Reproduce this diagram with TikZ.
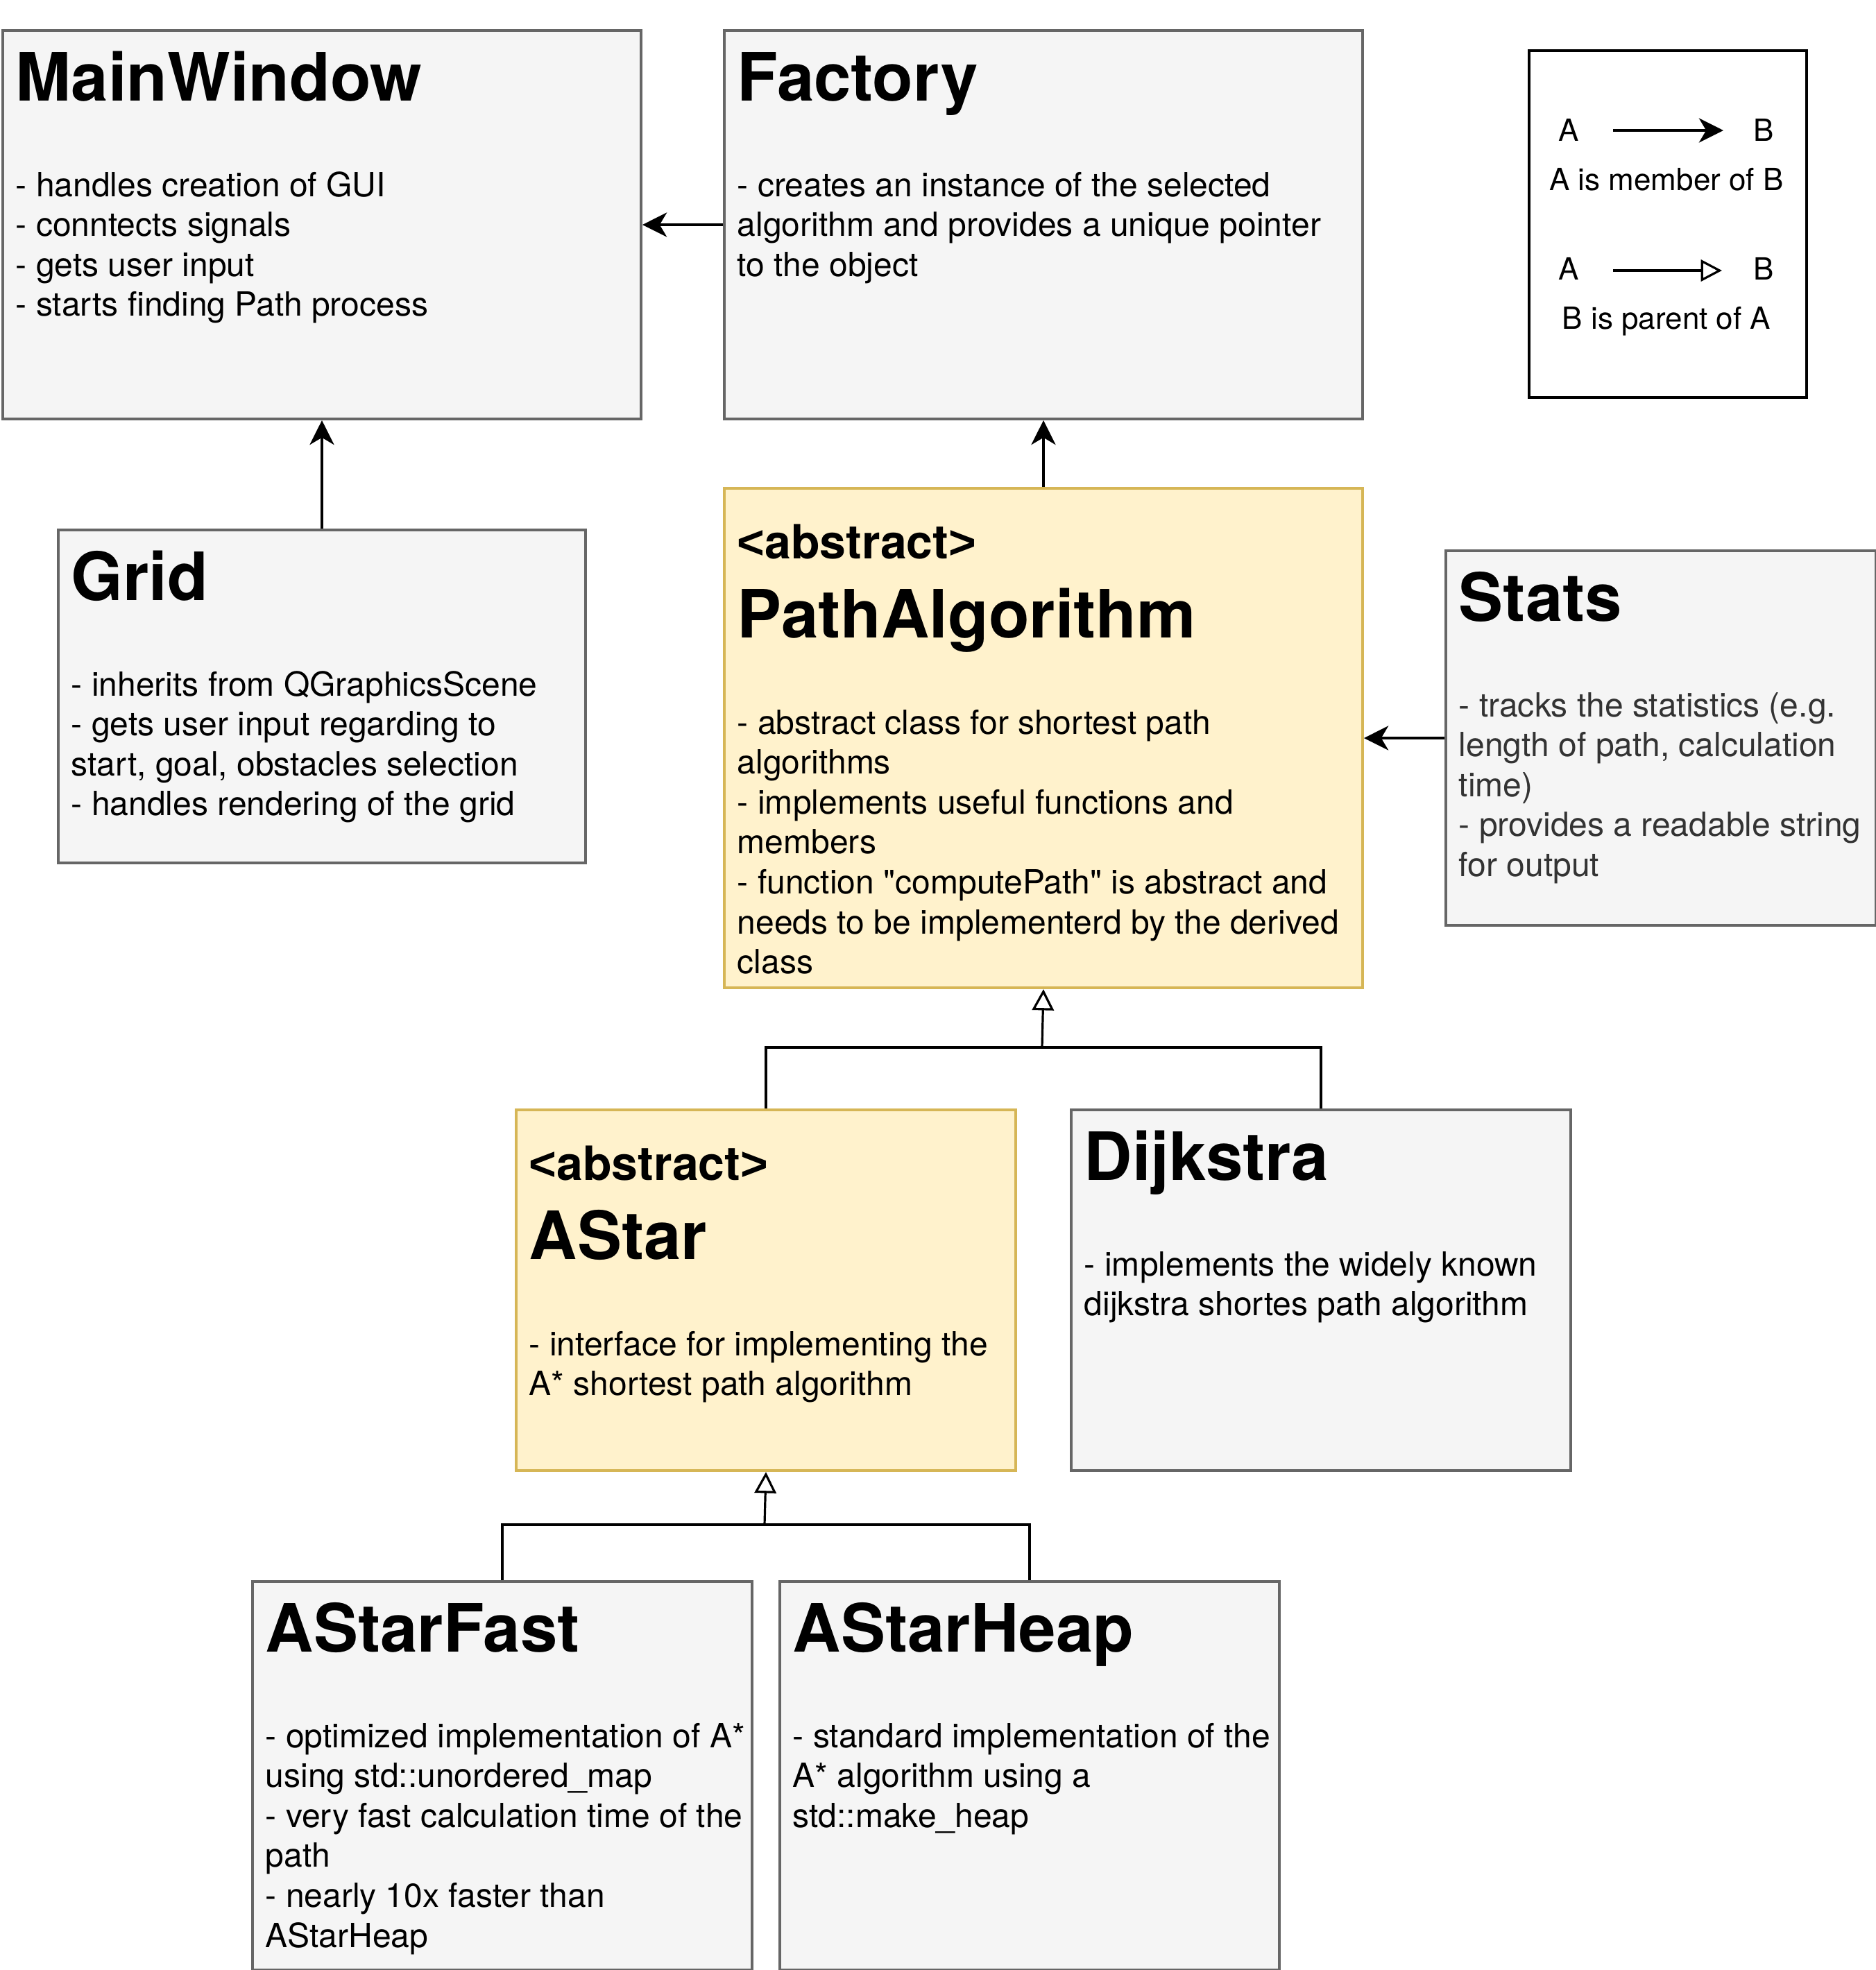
\documentclass[tikz,border=0pt]{standalone}
\usepackage{fontspec}
\setmainfont{TeX Gyre Heros}[Ligatures=TeXOff]
\newfontfamily\symfont{Liberation Sans}[Ligatures=TeXOff]
\usetikzlibrary{arrows.meta}
\definecolor{boxfill}{HTML}{F5F5F5}
\definecolor{boxline}{HTML}{666666}
\definecolor{absfill}{HTML}{FFF2CC}
\definecolor{absline}{HTML}{D6B656}
\definecolor{stattext}{HTML}{333333}
\newcommand\bodylines[1]{\vtop{\fontsize{12pt}{14.4pt}\selectfont\lineskiplimit=-20pt\def\nl{\egroup\hbox\bgroup}\hbox\bgroup#1\egroup}}
\newcommand\abslabel{{\symfont\symbol{"3C}}abstract{\symfont\symbol{"3E}}}
\tikzset{
  classbox/.style={draw=boxline, fill=boxfill, line width=1pt, inner sep=0pt, anchor=north west},
  absbox/.style={classbox, draw=absline, fill=absfill},
  legbox/.style={draw=black, fill=white, line width=1pt, inner sep=0pt, anchor=north west},
  titletxt/.style={anchor=base west, inner sep=0pt, font=\fontsize{24pt}{28pt}\selectfont\bfseries},
  abstxt/.style={anchor=base west, inner sep=0pt, font=\fontsize{17pt}{20pt}\selectfont\bfseries},
  bodytxt/.style={anchor=base west, inner sep=0pt},
  member/.style={line width=0.8pt, -{Stealth[length=8.8pt,width=8.8pt,inset=2.6pt]}},
  inherit/.style={line width=0.8pt, -{Triangle[open,length=7.6pt,width=7.8pt]}},
  plainline/.style={line width=0.8pt},
  legtxt/.style={font=\fontsize{11pt}{13pt}\selectfont, inner sep=0pt, anchor=base},
}
\begin{document}
\begin{tikzpicture}[x=1pt,y=-1pt]
\useasboundingbox (0,0) rectangle (676,710);
% boxes
\node[classbox, minimum width=230pt, minimum height=140pt] (mw) at (0.5,10.5) {};
\node[classbox, minimum width=230pt, minimum height=140pt] (fac) at (260.5,10.5) {};
\node[legbox, minimum width=100pt, minimum height=125pt] (leg) at (550.5,17.75) {};
\node[classbox, minimum width=190pt, minimum height=120pt] (grid) at (20.5,190.5) {};
\node[absbox, minimum width=230pt, minimum height=180pt] (pa) at (260.5,175.5) {};
\node[classbox, minimum width=155pt, minimum height=135pt] (stats) at (520.5,198) {};
\node[absbox, minimum width=180pt, minimum height=130pt] (astar) at (185.5,399.5) {};
\node[classbox, minimum width=180pt, minimum height=130pt] (dij) at (385.5,399.5) {};
\node[classbox, minimum width=180pt, minimum height=140pt] (afast) at (90.5,569.5) {};
\node[classbox, minimum width=180pt, minimum height=140pt] (aheap) at (280.5,569.5) {};
% texts
\node[titletxt] (mwT) at (5.5,36.25) {MainWindow};
\node[bodytxt] (mwB) at (5.5,70.75) {\bodylines{- handles creation of GUI\nl - conntects signals\nl - gets user input\nl - starts finding Path process}};
\node[titletxt] (facT) at (265.5,36.25) {Factory};
\node[bodytxt] (facB) at (265.5,70.75) {\bodylines{- creates an instance of the selected\nl algorithm and provides a unique pointer\nl to the object}};
\node[titletxt] (gridT) at (25.5,216.25) {Grid};
\node[bodytxt] (gridB) at (25.5,250.75) {\bodylines{- inherits from QGraphicsScene\nl - gets user input regarding to\nl start, goal, obstacles selection\nl - handles rendering of the grid}};
\node[abstxt] (paA) at (265.5,201.25) {\abslabel};
\node[titletxt] (paT) at (265.5,229.75) {PathAlgorithm};
\node[bodytxt] (paB) at (265.5,264.5) {\bodylines{- abstract class for shortest path\nl algorithms\nl - implements useful functions and\nl members\nl - function \symbol{"22}computePath\symbol{"22} is abstract and\nl needs to be implementerd by the derived\nl class}};
\node[titletxt] (statsT) at (525.5,223.75) {Stats};
\node[bodytxt, text=stattext] (statsB) at (525.5,258.25) {\bodylines{- tracks the statistics (e.g.\nl length of path, calculation\nl time)\nl - provides a readable string\nl for output}};
\node[abstxt] (astarA) at (190.5,425.25) {\abslabel};
\node[titletxt] (astarT) at (190.5,453.75) {AStar};
\node[bodytxt] (astarB) at (190.5,488.5) {\bodylines{- interface for implementing the\nl A* shortest path algorithm}};
\node[titletxt] (dijT) at (390.5,425.25) {Dijkstra};
\node[bodytxt] (dijB) at (390.5,459.75) {\bodylines{- implements the widely known\nl dijkstra shortes path algorithm}};
\node[titletxt] (afastT) at (95.5,595.25) {AStarFast};
\node[bodytxt] (afastB) at (95.5,629.75) {\bodylines{- optimized implementation of A*\nl using std::unordered\_map\nl - very fast calculation time of the\nl path\nl - nearly 10x faster than\nl AStarHeap}};
\node[titletxt] (aheapT) at (285.5,595.25) {AStarHeap};
\node[bodytxt] (aheapB) at (285.5,629.75) {\bodylines{- standard implementation of the\nl A* algorithm using a\nl std::make\_heap}};
% member connectors
\draw[member] (fac.west) -- (mw.east);
\draw[member] (grid.north) -- (mw.south);
\draw[member] (pa.north) -- (fac.south);
\draw[member] (stats.west) -- (pa.east);
% inheritance
\coordinate (j1) at (375.5,377.5);
\draw[plainline] (astar.north) |- (j1);
\draw[plainline] (dij.north) |- (j1);
\draw[inherit] (j1) -- (pa.south);
\coordinate (j2) at (275.5,549.5);
\draw[plainline] (afast.north) |- (j2);
\draw[plainline] (aheap.north) |- (j2);
\draw[inherit] (j2) -- (astar.south);
% legend
\node[legtxt] (la1) at (565.4,50.9) {A};
\node[legtxt] (lb1) at (635.6,50.9) {B};
\coordinate (m1s) at (581.25,47);
\coordinate (m1e) at (621,47);
\draw[member] (m1s) -- (m1e);
\node[legtxt] (lc1) at (600.5,68.5) {A is member of B};
\node[legtxt] (la2) at (565.4,100.9) {A};
\node[legtxt] (lb2) at (635.6,100.9) {B};
\coordinate (m2s) at (581.25,97.5);
\coordinate (m2e) at (620.5,97.5);
\draw[inherit] (m2s) -- (m2e);
\node[legtxt] (lc2) at (600.5,118.5) {B is parent of A};
\end{tikzpicture}
\end{document}
